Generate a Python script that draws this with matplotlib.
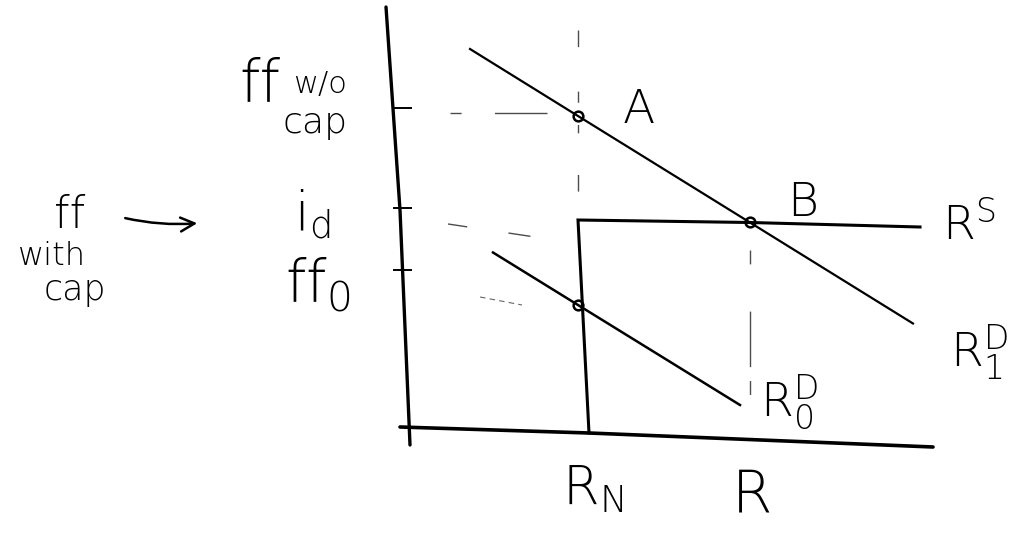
import matplotlib
matplotlib.use("Agg")
import matplotlib.pyplot as plt

plt.rcParams["font.family"] = ["DejaVu Sans"]
plt.rcParams["mathtext.fontset"] = "dejavusans"
plt.rcParams["lines.scale_dashes"] = False

# --- reserves-market sketch values (quantity R, rate i) ---
# hand-drawn axes
yaxis_R = [-0.38, -0.10, 0.10]
yaxis_i = [8.46, 4.40, -0.30]
xaxis_R = [-0.10, 3.68, 10.56]
xaxis_i = [0.06, -0.06, -0.34]

# demand curves
rd1_R = [1.30, 3.46, 6.90, 10.16]
rd1_i = [7.62, 6.28, 4.15, 2.13]
rd0_R = [1.76, 3.46, 6.70]
rd0_i = [3.55, 2.50, 0.50]

# reserve supply: vertical at R_N, flat at discount rate i_d
rs_R = [3.68, 3.46, 6.90, 10.30]
rs_i = [-0.06, 4.20, 4.15, 4.06]

# marked equilibria A, B and the original one
pts_R = [3.46, 6.90, 3.46]
pts_i = [6.28, 4.15, 2.50]

# rate levels marked on the vertical axis
rate_levels = [6.45, 4.45, 3.20]
R_N = 3.46
R_star = 6.90

fig = plt.figure(figsize=(10.14, 5.54), dpi=100)
ax = fig.add_axes([0, 0, 1, 1])
ax.set_xlim(-8.1, 12.18)
ax.set_ylim(-2.48, 8.6)
ax.axis("off")

ink = "black"
ax.plot(yaxis_R, yaxis_i, color=ink, lw=2.4, solid_capstyle="round")
ax.plot(xaxis_R, xaxis_i, color=ink, lw=2.6, solid_capstyle="round")
ax.plot(rd1_R, rd1_i, color=ink, lw=1.6)
ax.plot(rd0_R, rd0_i, color=ink, lw=1.8)
ax.plot(rs_R, rs_i, color=ink, lw=2.2, solid_joinstyle="miter")
ax.plot(pts_R, pts_i, ls="none", marker="o", ms=7, mfc="none", mec=ink, mew=1.8)

# tick marks on the vertical axis
for lv in rate_levels:
    ax.plot([-0.22, 0.12], [lv, lv], color=ink, lw=1.4)

# faint guide dashes
g = dict(color=ink, lw=1.0, alpha=0.7)
ax.plot([0.9, 2.84], [6.34, 6.34], ls=(0, (8, 24, 38, 200)), **g)
ax.plot([0.86, 2.6], [4.12, 3.86], ls=(0, (14, 30, 16, 200)), **g)
ax.plot([1.5, 2.34], [2.66, 2.5], ls=(0, (4, 3)), lw=0.8, color=ink, alpha=0.6)
ax.plot([R_N, R_N], [8.0, 4.6], ls=(0, (12, 32, 8, 16, 6, 30)), **g)
ax.plot([R_star, R_star], [3.6, 0.4], ls=(0, (10, 34, 40, 10)), **g)

# curve labels
fs = 34
tk = dict(color=ink, fontsize=fs, fontweight="light", va="center", ha="left")
ax.text(4.35, 6.4, "A", **tk)
ax.text(7.65, 4.55, "B", **tk)
ax.text(10.75, 4.1, r"$\mathregular{R^S}$", **tk)
ax.text(10.9, 1.55, r"$\mathregular{R^D_1}$", **tk)
ax.text(7.1, 0.55, r"$\mathregular{R^D_0}$", **tk)
ax.text(3.75, -1.2, r"$\mathregular{R_N}$", ha="center", va="center",
        color=ink, fontsize=38, fontweight="light")
ax.text(6.95, -1.3, "R", ha="center", va="center", color=ink, fontsize=42,
        fontweight="light")

# rate labels on the left
lt = dict(color=ink, fontweight="light", va="center")
ax.text(-2.5, 6.9, "ff", ha="right", fontsize=42, **lt)
ax.text(-1.7, 6.9, "w/o", ha="center", fontsize=22, **lt)
ax.text(-1.8, 6.15, "cap", ha="center", fontsize=26, **lt)
ax.text(-1.85, 4.3, r"$\mathregular{i_d}$", ha="center", fontsize=38, **lt)
ax.text(-1.75, 2.9, r"$\mathregular{ff_0}$", ha="center", fontsize=42, **lt)

# note on the far left
ax.text(-6.7, 4.3, "ff", ha="center", fontsize=32, **lt)
ax.text(-7.05, 3.48, "with", ha="center", fontsize=23, **lt)
ax.text(-6.6, 2.8, "cap", ha="center", fontsize=25, **lt)
ax.annotate("", xy=(-4.1, 4.14), xytext=(-5.65, 4.25),
            arrowprops=dict(arrowstyle="->", color=ink, lw=1.8,
                            mutation_scale=25,
                            connectionstyle="arc3,rad=0.08"))

fig.savefig("out.png", dpi=100)
